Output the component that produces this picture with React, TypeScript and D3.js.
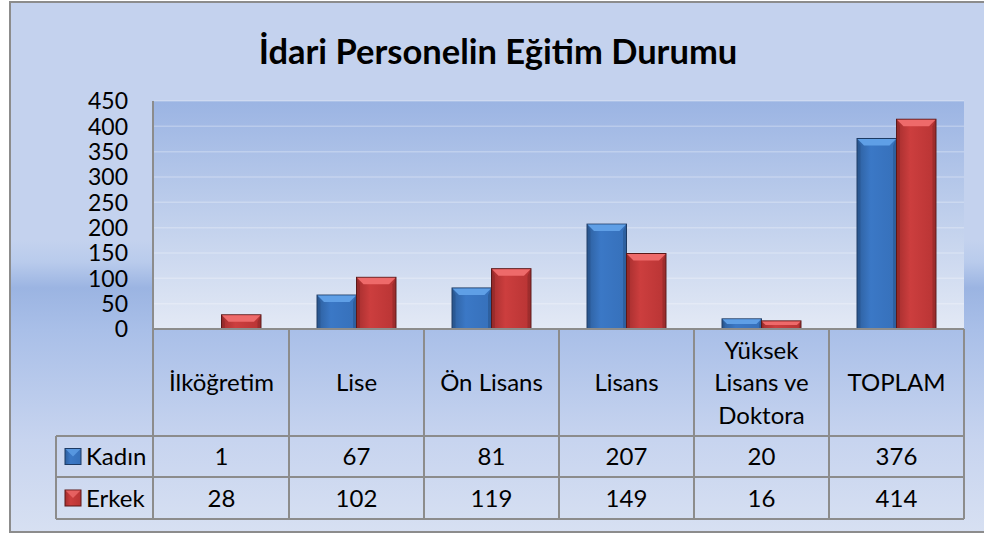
import React from "react";
import * as d3 from "d3";

const categories = ["İlköğretim", "Lise", "Ön Lisans", "Lisans", "Yüksek Lisans ve Doktora", "TOPLAM"];
const seriesNames = ["Kadın", "Erkek"];
const kadin = [1, 67, 81, 207, 20, 376];
const erkek = [28, 102, 119, 149, 16, 414];
const yTicks = [0, 50, 100, 150, 200, 250, 300, 350, 400, 450];
const title = "İdari Personelin Eğitim Durumu";

const W = 984;
const H = 534;
const FONT = "Lato, 'Open Sans', sans-serif";

const plotLeft = 154;
const plotRight = 964;
const plotTop = 101;
const plotBottom = 329;
const headerBottom = 436;
const row1Bottom = 477;
const row2Bottom = 519;
const legendLeft = 56;

const palette = {
  Kadın: { face: ["#2d5f9e", "#3b78c6", "#3670ba"], top: "#5f9fe6", stroke: "#1d3a63" },
  Erkek: { face: ["#a52e2e", "#cc3e3e", "#b83434"], top: "#ee6a6a", stroke: "#5a1818" },
};

function wrap(label: string, maxChars: number): string[] {
  const words = label.split(" ");
  const lines: string[] = [];
  let cur = "";
  words.forEach((w) => {
    const next = cur ? cur + " " + w : w;
    if (next.length > maxChars && cur) {
      lines.push(cur);
      cur = w;
    } else cur = next;
  });
  if (cur) lines.push(cur);
  return lines;
}

function Bar({ x, y, w, h, s }: { x: number; y: number; w: number; h: number; s: string }) {
  const p = (palette as any)[s];
  const b = Math.min(7, h / 2);
  const id = s === "Kadın" ? "faceK" : "faceE";
  return (
    <g>
      <rect x={x} y={y} width={w} height={h} fill={`url(#${id})`} stroke={p.stroke} strokeWidth={1} />
      <polygon
        points={`${x + 0.5},${y + 0.5} ${x + w - 0.5},${y + 0.5} ${x + w - b},${y + b} ${x + b},${y + b}`}
        fill={p.top}
      />
      <polygon
        points={`${x + 0.5},${y + 0.5} ${x + b * 0.5},${y + b} ${x + b * 0.5},${y + h - 0.5} ${x + 0.5},${y + h - 0.5}`}
        fill="#000"
        opacity={0.1}
      />
      <polygon
        points={`${x + w - 0.5},${y + 0.5} ${x + w - b * 0.5},${y + b} ${x + w - b * 0.5},${y + h - 0.5} ${x + w - 0.5},${y + h - 0.5}`}
        fill="#000"
        opacity={0.15}
      />
    </g>
  );
}

export default function App() {
  const x0 = d3.scaleBand<string>().domain(categories).range([plotLeft, plotRight]).padding(0);
  const x1 = d3
    .scaleBand<string>()
    .domain(seriesNames)
    .range([0, x0.bandwidth()])
    .paddingInner(0)
    .paddingOuter(0.71);
  const y = d3.scaleLinear().domain([0, 450]).range([plotBottom, plotTop]);
  const series = [
    { name: "Kadın", values: kadin },
    { name: "Erkek", values: erkek },
  ];
  const gray = "#8c8c8c";

  return (
    <svg width={W} height={H} style={{ position: "absolute", left: 0, top: 0 }} fontFamily={FONT}>
      <defs>
        <linearGradient id="bg" gradientUnits="userSpaceOnUse" x1={0} y1={2} x2={0} y2={532}>
          <stop offset={0} stopColor="#c4d2ee" />
          <stop offset={(240 - 2) / 530} stopColor="#c4d2ee" />
          <stop offset={(262 - 2) / 530} stopColor="#b9cbec" />
          <stop offset={(288 - 2) / 530} stopColor="#9bb4e2" />
          <stop offset={(330 - 2) / 530} stopColor="#a9bfe8" />
          <stop offset={(440 - 2) / 530} stopColor="#c7d4ef" />
          <stop offset={1} stopColor="#d7e0f2" />
        </linearGradient>
        <linearGradient id="plotbg" x1={0} y1={0} x2={0} y2={1}>
          <stop offset={0} stopColor="#9bb4e3" />
          <stop offset={0.5} stopColor="#bfcfec" />
          <stop offset={1} stopColor="#e3e9f5" />
        </linearGradient>
        {series.map((s) => {
          const p = (palette as any)[s.name];
          return (
            <linearGradient key={s.name} id={s.name === "Kadın" ? "faceK" : "faceE"} x1={0} y1={0} x2={1} y2={0}>
              <stop offset={0} stopColor={p.face[0]} />
              <stop offset={0.35} stopColor={p.face[1]} />
              <stop offset={1} stopColor={p.face[2]} />
            </linearGradient>
          );
        })}
      </defs>

      <rect x={10} y={2} width={990} height={530} fill="url(#bg)" stroke={gray} strokeWidth={2} />

      <text x={498} y={64} textAnchor="middle" fontSize={34.5} fontWeight={700} fill="#000">
        {title}
      </text>

      <rect x={plotLeft} y={plotTop} width={plotRight - plotLeft} height={plotBottom - plotTop} fill="url(#plotbg)" />
      {yTicks.slice(1).map((t) => (
        <line key={t} x1={plotLeft} x2={plotRight} y1={y(t)} y2={y(t)} stroke="#ffffff" strokeOpacity={0.25} strokeWidth={1.5} />
      ))}

      {yTicks.map((t) => (
        <text key={t} x={128} y={y(t)} dy="0.36em" textAnchor="end" fontSize={23} fill="#000">
          {t}
        </text>
      ))}

      {series.map((s) =>
        categories.map((c, i) => {
          const v = s.values[i];
          const bx = (x0(c) as number) + (x1(s.name) as number);
          const by = y(v);
          return <Bar key={s.name + c} x={bx} y={by} w={x1.bandwidth()} h={plotBottom - by} s={s.name} />;
        })
      )}

      {/* table grid */}
      <g stroke={gray} strokeWidth={2} fill="none">
        <line x1={plotLeft - 1} x2={plotLeft - 1} y1={plotTop} y2={row2Bottom} />
        <line x1={plotLeft - 1} x2={plotRight} y1={plotBottom} y2={plotBottom} />
        <line x1={legendLeft} x2={plotRight} y1={headerBottom} y2={headerBottom} />
        <line x1={legendLeft} x2={plotRight} y1={row1Bottom} y2={row1Bottom} />
        <line x1={legendLeft} x2={plotRight} y1={row2Bottom} y2={row2Bottom} />
        <line x1={legendLeft} x2={legendLeft} y1={headerBottom} y2={row2Bottom} />
        {categories.map((c) => {
          const xe = (x0(c) as number) + x0.bandwidth();
          return <line key={c} x1={xe} x2={xe} y1={plotBottom} y2={row2Bottom} />;
        })}
      </g>

      {categories.map((c) => {
        const lines = wrap(c, 10);
        const cx = (x0(c) as number) + x0.bandwidth() / 2;
        const cy = (plotBottom + headerBottom) / 2;
        const lh = 32.5;
        return (
          <text key={c} x={cx} textAnchor="middle" fontSize={24} fill="#000">
            {lines.map((l, k) => (
              <tspan key={k} x={cx} y={cy + (k - (lines.length - 1) / 2) * lh} dy="0.36em">
                {l}
              </tspan>
            ))}
          </text>
        );
      })}

      {series.map((s, r) => {
        const top = r === 0 ? headerBottom : row1Bottom;
        const bot = r === 0 ? row1Bottom : row2Bottom;
        const cy = (top + bot) / 2;
        const p = (palette as any)[s.name];
        return (
          <g key={s.name}>
            <rect x={65} y={cy - 8} width={16} height={16} fill={`url(#${s.name === "Kadın" ? "faceK" : "faceE"})`} stroke={p.stroke} strokeWidth={1} />
            <polygon points={`${65.5},${cy - 7.5} ${80.5},${cy - 7.5} ${73},${cy}`} fill={p.top} opacity={0.8} />
            <text x={86} y={cy} dy="0.36em" fontSize={24} fill="#000">
              {s.name}
            </text>
            {categories.map((c, i) => (
              <text key={c} x={(x0(c) as number) + x0.bandwidth() / 2} y={cy} dy="0.36em" textAnchor="middle" fontSize={24} fill="#000">
                {s.values[i]}
              </text>
            ))}
          </g>
        );
      })}
    </svg>
  );
}
